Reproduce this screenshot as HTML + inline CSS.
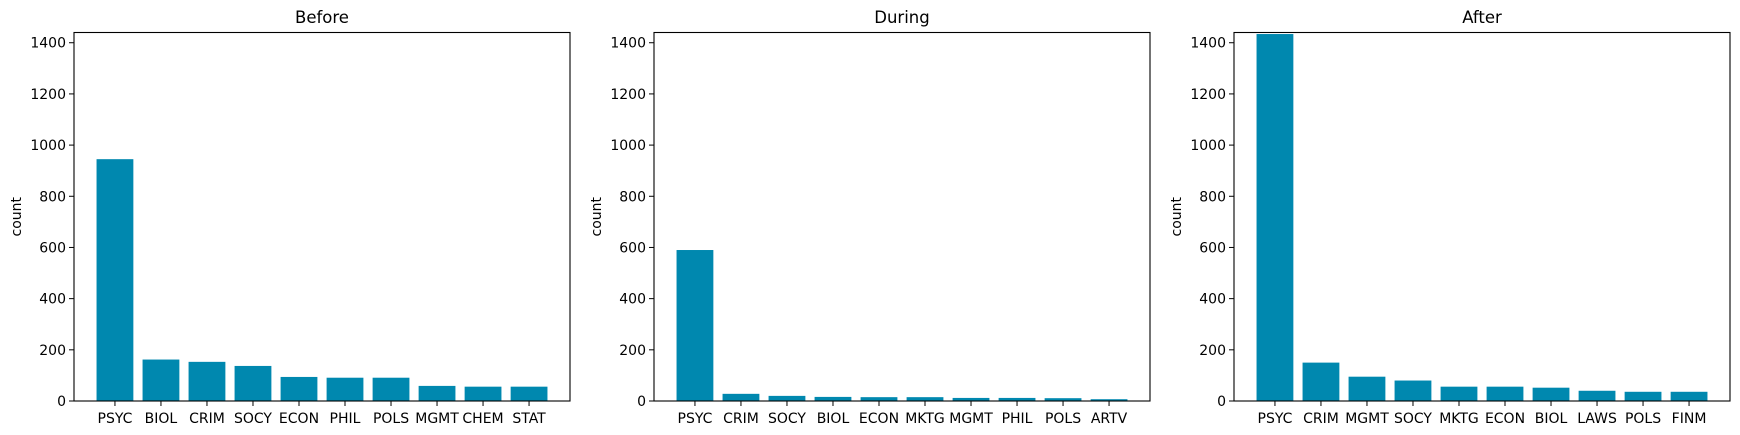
<!DOCTYPE html>
<html><head><meta charset="utf-8">
<style>
html,body{margin:0;padding:0;background:#fff;}
svg{display:block;font-family:"DejaVu Sans","Liberation Sans",sans-serif;}
</style></head>
<body>
<svg id="chart" width="1740" height="435" xmlns="http://www.w3.org/2000/svg"></svg>
<script>
const titles = ["Before", "During", "After"];
const catsBefore = ["PSYC","BIOL","CRIM","SOCY","ECON","PHIL","POLS","MGMT","CHEM","STAT"];
const valsBefore = [945,162,153,137,94,91,91,59,56,56];
const catsDuring = ["PSYC","CRIM","SOCY","BIOL","ECON","MKTG","MGMT","PHIL","POLS","ARTV"];
const valsDuring = [590,28,20,16,15,15,12,12,11,7];
const catsAfter = ["PSYC","CRIM","MGMT","SOCY","MKTG","ECON","BIOL","LAWS","POLS","FINM"];
const valsAfter = [1434,150,95,80,56,56,52,40,36,36];
const yTicks = [0,200,400,600,800,1000,1200,1400];

const NS = "http://www.w3.org/2000/svg";
const svgEl = document.getElementById("chart");
function mk(tag, attrs, parent){
  const e = document.createElementNS(NS, tag);
  for (const k in attrs) e.setAttribute(k, attrs[k]);
  (parent||svgEl).appendChild(e);
  return e;
}
const panels = [[catsBefore,valsBefore],[catsDuring,valsDuring],[catsAfter,valsAfter]];
const lefts = [74,654,1234];
const plotW = 496, plotTop = 32.5, plotBottom = 401;
const yMax = 1440;
panels.forEach((p, i) => {
  const cats = p[0], vals = p[1];
  const L = lefts[i];
  const g = mk("g", {});
  
  
  const n = cats.length;
  const xmin = -0.4 - 0.05*(n-0.2), xmax = n-1+0.4 + 0.05*(n-0.2);
  const xs = v => L + (v - xmin)/(xmax - xmin)*plotW;
  const ys = v => plotBottom - v/yMax*(plotBottom - plotTop);
  vals.forEach((v, j) => {
    const r = mk("rect", {x: xs(j-0.4), y: ys(v), width: xs(j+0.4)-xs(j-0.4), height: plotBottom-ys(v), fill: "#0088af"}, g);
    
    
    mk("line", {x1: xs(j), x2: xs(j), y1: plotBottom, y2: plotBottom+5, stroke: "#000", "stroke-width": 1}, g);
    const t = mk("text", {x: xs(j), y: plotBottom+22, "text-anchor": "middle", "font-size": 14, fill: "#000"}, g);
    t.textContent = cats[j];
    
    
  });
  yTicks.forEach(v => {
    mk("line", {x1: L-5, x2: L, y1: ys(v), y2: ys(v), stroke: "#000", "stroke-width": 1}, g);
    const t = mk("text", {x: L-8, y: ys(v)+5, "text-anchor": "end", "font-size": 14, fill: "#000"}, g);
    t.textContent = v;
    
    
  });
  const fr = mk("rect", {x: L, y: plotTop, width: plotW, height: plotBottom-plotTop, fill: "none", stroke: "#000", "stroke-width": 1.1}, g);
  
  
  const tt = mk("text", {x: L+plotW/2, y: 23, "text-anchor": "middle", "font-size": 16.5, fill: "#000"}, g);
  tt.textContent = titles[i];
  
  
  const yl = mk("text", {x: 0, y: 0, "text-anchor": "middle", "font-size": 14, fill: "#000", transform: "translate(" + (L-53) + "," + ((plotTop+plotBottom)/2) + ") rotate(-90)"}, g);
  yl.textContent = "count";
  
  
});
</script>
</body></html>
